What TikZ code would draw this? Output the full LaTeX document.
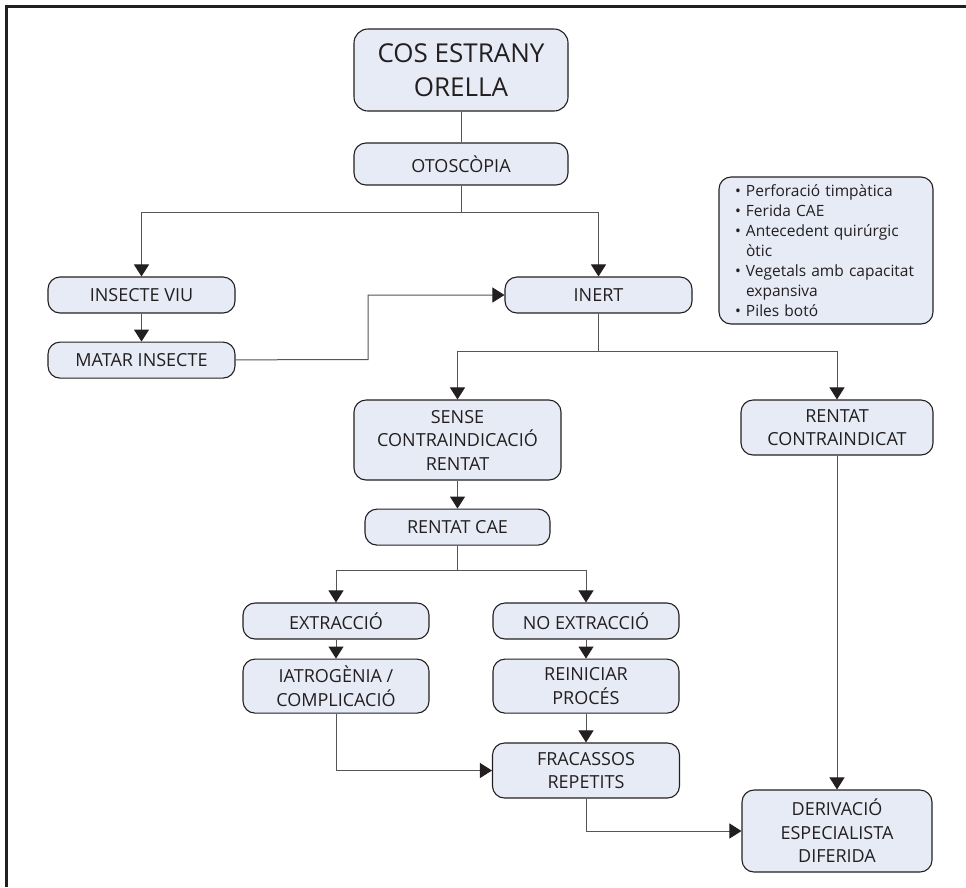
\documentclass[tikz,border=0pt]{standalone}
\usepackage{fontspec}
\setmainfont{Open Sans}
\usepackage{xcolor}
\usepackage{tikz}
\usetikzlibrary{arrows.meta,positioning,calc}

\definecolor{boxfill}{RGB}{231,235,246}
\definecolor{inkgray}{RGB}{35,31,32}
\definecolor{wiregray}{RGB}{85,85,85}

\begin{document}
\begin{tikzpicture}[
    x=1pt, y=-1pt,
    box/.style={rectangle, rounded corners=12pt, draw=inkgray, line width=1.1pt, fill=boxfill, text=inkgray, minimum width=187pt, minimum height=36pt, inner sep=0pt, align=center, font=\fontsize{18}{23.5}\selectfont},
    arrow/.style={-{Triangle[length=12pt,width=15pt,color=inkgray]}, wiregray, line width=1pt},
    link/.style={wiregray, line width=1pt}
]
    \useasboundingbox (0,0) rectangle (966,887);

    % Frame (top and left only)
    \draw[inkgray, line width=2.7pt] (6.5,887) -- (6.5,6.5) -- (966,6.5);

    % Start
    \node[box, minimum width=214pt, minimum height=82pt, rounded corners=14pt, font=\fontsize{26}{34}\selectfont] (cos) at (461,70) {COS ESTRANY\\ORELLA};
    \node[box, minimum width=214pt, minimum height=42pt] (otoscopia) at (461,164) {OTOSCÒPIA};

    % Live insect / inert body
    \node[box] (insecte) at (141.5,295) {INSECTE VIU};
    \node[box, below=28pt of insecte] (matar) {MATAR INSECTE};
    \node[box] (inert) at (598.5,295) {INERT};

    % Contraindications
    \node[box, minimum width=214pt, minimum height=147pt, text width=182pt, align=left, font=\fontsize{15.5}{20}\selectfont] (risc) at (826,250.5) {\textbullet\ Perforació timpàtica\\
        \textbullet\ Ferida CAE\\
        \textbullet\ Antecedent quirúrgic\\
        \hphantom{\textbullet\ }òtic\\
        \mbox{\textbullet\ Vegetals amb capacitat}\\
        \hphantom{\textbullet\ }expansiva\\
        \textbullet\ Piles botó};

    % Washing
    \node[box, minimum width=207pt, minimum height=80pt] (sense) at (457.5,440) {SENSE\\CONTRAINDICACIÓ\\RENTAT};
    \node[box, minimum width=192pt, minimum height=55pt] (contra) at (837,427.5) {RENTAT\\CONTRAINDICAT};
    \node[box, minimum width=185pt, below=28pt of sense] (rentat) {RENTAT CAE};

    % Result
    \node[box, minimum width=186pt] (extraccio) at (336,621) {EXTRACCIÓ};
    \node[box, minimum width=186pt, minimum height=54pt, below=19pt of extraccio] (iatro) {IATROGÈNIA /\\COMPLICACIÓ};
    \node[box, minimum width=186pt] (noextr) at (586,621) {NO EXTRACCIÓ};
    \node[box, minimum width=186pt, minimum height=54pt, below=19pt of noextr] (reiniciar) {REINICIAR\\PROCÉS};
    \node[box, minimum height=55pt] (fracassos) at (586,770.5) {FRACASSOS\\REPETITS};
    \node[box, minimum width=190pt, minimum height=82pt] (derivacio) at (837,831) {DERIVACIÓ\\ESPECIALISTA\\DIFERIDA};

    % Forks
    \coordinate (fork1) at (461,212);
    \coordinate (kink) at (368,359.5);
    \coordinate (fork2) at (598.5,351);
    \coordinate (fork3) at (457.5,570);

    % Arrows
    \draw[link] (cos) -- (otoscopia);
    \draw[link] (otoscopia) -- (fork1);
    \draw[arrow] (fork1) -| (insecte);
    \draw[arrow] (fork1) -| (inert);
    \draw[arrow] (insecte) -- (matar);
    \draw[arrow] (matar) -- (kink) |- (inert);
    \draw[link] (inert) -- (fork2);
    \draw[arrow] (fork2) -| (sense);
    \draw[arrow] (fork2) -| (contra);
    \draw[arrow] (sense) -- (rentat);
    \draw[link] (rentat) -- (fork3);
    \draw[arrow] (fork3) -| (extraccio);
    \draw[arrow] (fork3) -| (noextr);
    \draw[arrow] (extraccio) -- (iatro);
    \draw[arrow] (noextr) -- (reiniciar);
    \draw[arrow] (reiniciar) -- (fracassos);
    \draw[arrow] (iatro) |- (fracassos);
    \draw[arrow] (fracassos) |- (derivacio);
    \draw[arrow] (contra) -- (derivacio);
\end{tikzpicture}
\end{document}
